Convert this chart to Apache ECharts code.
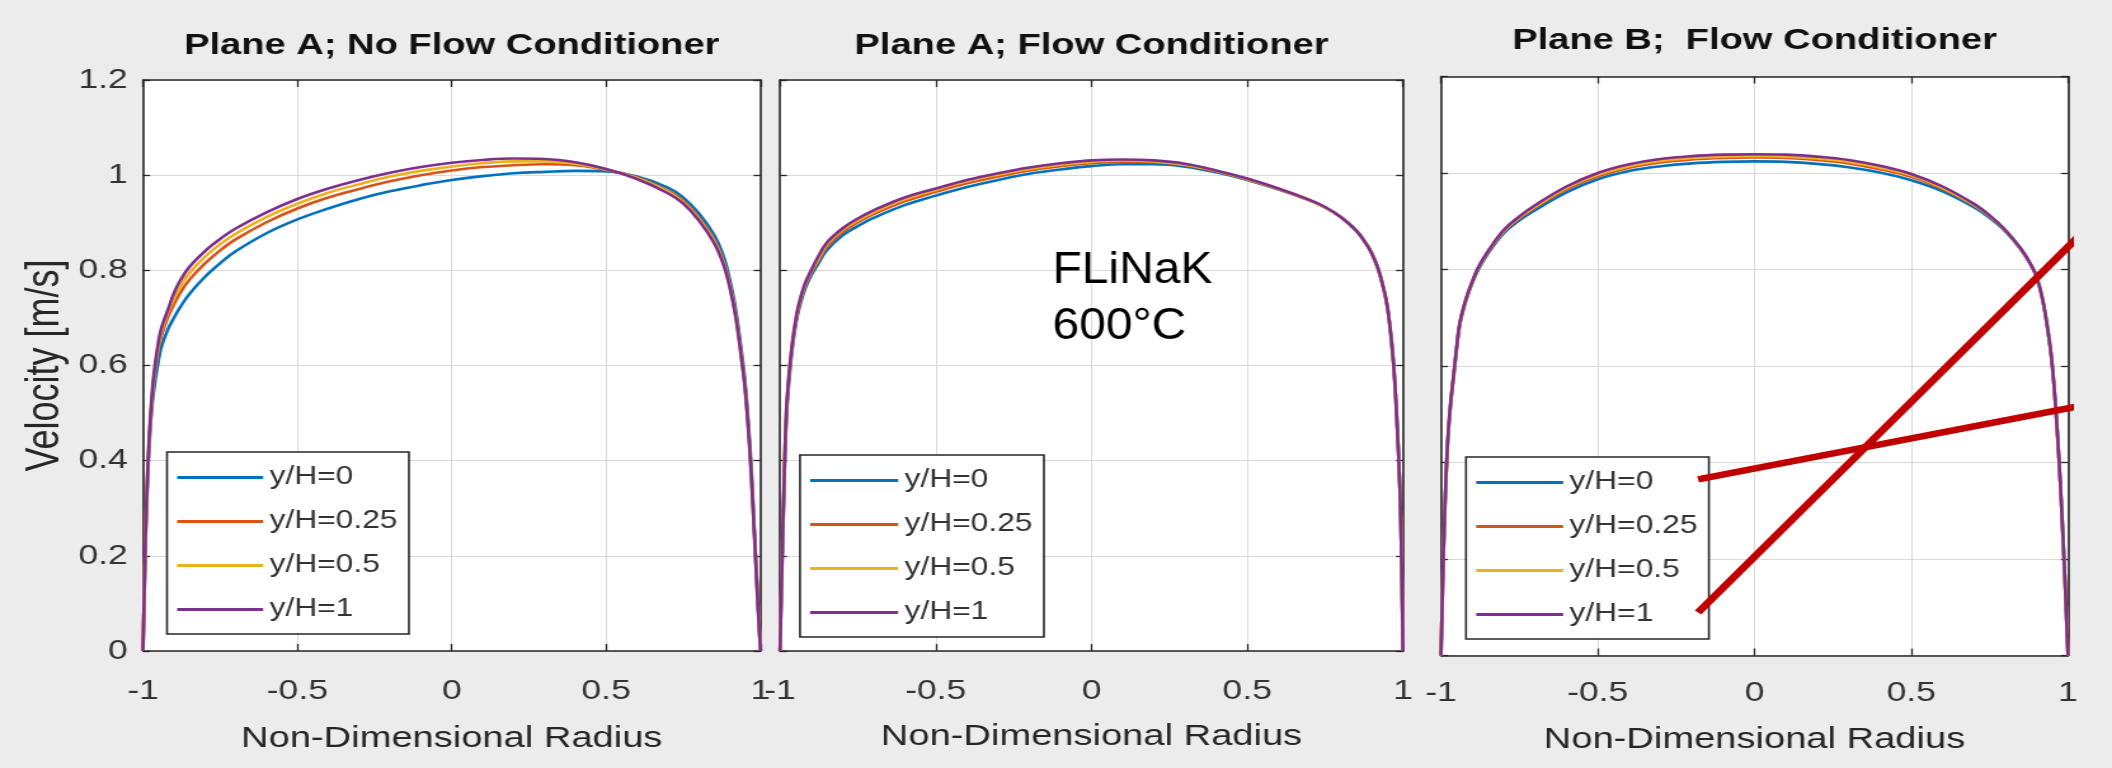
<!DOCTYPE html>
<html>
<head>
<meta charset="utf-8">
<script src="https://cdn.jsdelivr.net/npm/echarts@6/dist/echarts.min.js"></script>
<style>
html,body{margin:0;padding:0;background:#ececec;overflow:hidden;width:2112px;height:768px}
#chart{position:absolute;left:0;top:0;height:768px;transform-origin:0 0}
</style>
</head>
<body>
<div id="chart"></div>
<script>
// ---------------- data ----------------
const radius = [-1, -0.995, -0.99, -0.98, -0.97, -0.96, -0.95, -0.94, -0.92, -0.9, -0.88, -0.85, -0.8, -0.75, -0.7, -0.6, -0.5, -0.4, -0.3, -0.2, -0.1, 0, 0.1, 0.2, 0.3, 0.4, 0.5, 0.6, 0.7, 0.75, 0.8, 0.85, 0.88, 0.9, 0.92, 0.94, 0.95, 0.96, 0.97, 0.98, 0.99, 0.995, 1];

// Plane A; No Flow Conditioner
const planeA_noFC_y0   = [0, 0.14, 0.27, 0.43, 0.52, 0.57, 0.61, 0.64, 0.675, 0.70, 0.722, 0.75, 0.786, 0.815, 0.84, 0.878, 0.907, 0.93, 0.95, 0.966, 0.979, 0.99, 0.998, 1.004, 1.007, 1.009, 1.008, 0.997, 0.974, 0.953, 0.92, 0.874, 0.83, 0.782, 0.717, 0.622, 0.566, 0.487, 0.387, 0.257, 0.124, 0.063, 0];
const planeA_noFC_y025 = [0, 0.145, 0.28, 0.44, 0.535, 0.595, 0.635, 0.663, 0.70, 0.728, 0.752, 0.78, 0.814, 0.842, 0.865, 0.901, 0.93, 0.953, 0.971, 0.987, 1.0, 1.01, 1.017, 1.021, 1.023, 1.021, 1.011, 0.995, 0.967, 0.946, 0.911, 0.864, 0.819, 0.771, 0.706, 0.611, 0.556, 0.476, 0.376, 0.249, 0.119, 0.059, 0];
const planeA_noFC_y05  = [0, 0.148, 0.285, 0.445, 0.54, 0.60, 0.642, 0.672, 0.71, 0.74, 0.765, 0.794, 0.828, 0.855, 0.877, 0.912, 0.94, 0.963, 0.981, 0.997, 1.009, 1.018, 1.025, 1.029, 1.029, 1.024, 1.012, 0.994, 0.965, 0.943, 0.908, 0.861, 0.816, 0.768, 0.703, 0.608, 0.553, 0.473, 0.373, 0.247, 0.117, 0.057, 0];
const planeA_noFC_y1   = [0, 0.15, 0.29, 0.45, 0.548, 0.607, 0.65, 0.68, 0.716, 0.752, 0.778, 0.807, 0.84, 0.866, 0.888, 0.922, 0.95, 0.972, 0.99, 1.005, 1.017, 1.026, 1.032, 1.035, 1.034, 1.027, 1.013, 0.992, 0.962, 0.94, 0.905, 0.857, 0.812, 0.765, 0.70, 0.605, 0.55, 0.47, 0.37, 0.245, 0.115, 0.055, 0];

// Plane A; Flow Conditioner
const planeA_FC_y0   = [0, 0.14, 0.265, 0.48, 0.575, 0.638, 0.683, 0.716, 0.76, 0.789, 0.811, 0.842, 0.873, 0.893, 0.91, 0.937, 0.957, 0.975, 0.99, 1.003, 1.012, 1.019, 1.023, 1.023, 1.018, 1.006, 0.99, 0.97, 0.947, 0.932, 0.912, 0.884, 0.858, 0.836, 0.804, 0.756, 0.723, 0.671, 0.601, 0.491, 0.341, 0.2, 0];
const planeA_FC_y025 = [0, 0.145, 0.272, 0.49, 0.583, 0.644, 0.689, 0.722, 0.766, 0.795, 0.817, 0.849, 0.88, 0.901, 0.918, 0.945, 0.965, 0.983, 0.997, 1.01, 1.019, 1.025, 1.028, 1.027, 1.021, 1.008, 0.991, 0.971, 0.947, 0.932, 0.912, 0.883, 0.857, 0.835, 0.803, 0.755, 0.722, 0.67, 0.60, 0.49, 0.34, 0.2, 0];
const planeA_FC_y05  = [0, 0.148, 0.276, 0.495, 0.587, 0.647, 0.692, 0.725, 0.769, 0.798, 0.82, 0.854, 0.885, 0.905, 0.922, 0.949, 0.969, 0.987, 1.001, 1.013, 1.022, 1.028, 1.031, 1.029, 1.022, 1.009, 0.992, 0.971, 0.947, 0.932, 0.912, 0.883, 0.857, 0.835, 0.803, 0.755, 0.722, 0.67, 0.60, 0.49, 0.34, 0.2, 0];
const planeA_FC_y1   = [0, 0.15, 0.28, 0.50, 0.59, 0.65, 0.695, 0.728, 0.772, 0.80, 0.826, 0.858, 0.888, 0.909, 0.926, 0.953, 0.972, 0.99, 1.004, 1.016, 1.025, 1.031, 1.033, 1.031, 1.024, 1.01, 0.993, 0.972, 0.948, 0.933, 0.912, 0.883, 0.857, 0.835, 0.803, 0.755, 0.722, 0.67, 0.60, 0.49, 0.34, 0.2, 0];

// Plane B; Flow Conditioner
const planeB_FC_y0   = [0, 0.135, 0.255, 0.425, 0.515, 0.576, 0.636, 0.686, 0.736, 0.772, 0.801, 0.833, 0.875, 0.902, 0.923, 0.96, 0.987, 1.004, 1.014, 1.02, 1.023, 1.024, 1.023, 1.019, 1.012, 1.001, 0.985, 0.962, 0.929, 0.907, 0.879, 0.841, 0.811, 0.784, 0.734, 0.654, 0.599, 0.519, 0.419, 0.299, 0.159, 0.079, 0];
const planeB_FC_y025 = [0, 0.137, 0.257, 0.428, 0.518, 0.578, 0.638, 0.688, 0.738, 0.774, 0.804, 0.836, 0.879, 0.906, 0.928, 0.966, 0.993, 1.011, 1.022, 1.028, 1.031, 1.032, 1.031, 1.027, 1.02, 1.008, 0.992, 0.967, 0.933, 0.91, 0.881, 0.842, 0.812, 0.785, 0.735, 0.655, 0.60, 0.52, 0.42, 0.30, 0.16, 0.08, 0];
const planeB_FC_y05  = [0, 0.138, 0.258, 0.429, 0.519, 0.579, 0.639, 0.689, 0.739, 0.775, 0.805, 0.837, 0.88, 0.908, 0.93, 0.969, 0.996, 1.014, 1.025, 1.031, 1.034, 1.035, 1.034, 1.03, 1.023, 1.011, 0.995, 0.969, 0.934, 0.911, 0.881, 0.842, 0.812, 0.785, 0.735, 0.655, 0.60, 0.52, 0.42, 0.30, 0.16, 0.08, 0];
const planeB_FC_y1   = [0, 0.14, 0.26, 0.43, 0.52, 0.58, 0.64, 0.69, 0.74, 0.776, 0.806, 0.838, 0.882, 0.91, 0.933, 0.972, 1.0, 1.018, 1.029, 1.035, 1.038, 1.039, 1.038, 1.034, 1.027, 1.015, 0.998, 0.972, 0.936, 0.912, 0.882, 0.843, 0.812, 0.785, 0.735, 0.655, 0.60, 0.52, 0.42, 0.30, 0.16, 0.08, 0];

// annotation pointers (in Plane B data coordinates)
const pointerFromY0 = [[-0.18, 0.365], [1.14, 0.53]];
const pointerFromY1 = [[-0.18, 0.089], [1.14, 0.937]];

const seriesNames = ['y/H=0', 'y/H=0.25', 'y/H=0.5', 'y/H=1'];
const panelTitles = ['Plane A; No Flow Conditioner', 'Plane A; Flow Conditioner', 'Plane B;  Flow Conditioner'];
const xTicks = [-1, -0.5, 0, 0.5, 1];
const yTicks = [0, 0.2, 0.4, 0.6, 0.8, 1, 1.2];
const xAxisName = 'Non-Dimensional Radius';
const yAxisName = 'Velocity [m/s]';
const annotationText = 'FLiNaK\n600°C';

const panels = [
  [planeA_noFC_y0, planeA_noFC_y025, planeA_noFC_y05, planeA_noFC_y1],
  [planeA_FC_y0, planeA_FC_y025, planeA_FC_y05, planeA_FC_y1],
  [planeB_FC_y0, planeB_FC_y025, planeB_FC_y05, planeB_FC_y1]
];

// ---------------- layout / style ----------------
const S = 1.27;                // horizontal stretch of the source figure
const W = 2112 / S;
const el = document.getElementById('chart');
el.style.width = W + 'px';
el.style.transform = 'scaleX(' + S + ')';
const fx = v => v / S;

const colors = ['#0072BD', '#D95319', '#EDB120', '#7E2F8E'];
const FONT = 'Liberation Sans';
const boxes = [
  {l: 143, r: 760.5, t: 80, b: 651, titleTop: 31, legL: 167, legT: 452, icon: 86, lab: 26, nameGap: 73},
  {l: 780, r: 1403, t: 80, b: 651, titleTop: 31, legL: 800, legT: 455, icon: 88, lab: 26, nameGap: 71},
  {l: 1441, r: 2068, t: 76.5, b: 655.5, titleTop: 26, legL: 1466, legT: 457, icon: 87, lab: 24, nameGap: 69}
];

const grid = [], xAxis = [], yAxis = [], series = [], legend = [], title = [];
boxes.forEach((B, p) => {
  grid.push({left: fx(B.l), top: B.t, width: fx(B.r - B.l), height: B.b - B.t,
    show: true, backgroundColor: '#ffffff', borderWidth: 0, containLabel: false, outerBoundsMode: 'none'});
  const axisLine = {show: true, onZero: false, lineStyle: {color: '#262626', width: 1.6}};
  xAxis.push({
    type: 'value', gridIndex: p, position: 'bottom',
    min: xTicks[0], max: xTicks[xTicks.length - 1], interval: xTicks[1] - xTicks[0],
    axisLine, axisTick: {show: true, inside: true, length: 7, lineStyle: {color: '#262626', width: 1.3}},
    axisLabel: {show: true, margin: B.lab, fontSize: 28, fontFamily: FONT, color: '#333333'},
    splitLine: {show: true, lineStyle: {color: '#dadada', width: 1}},
    name: xAxisName, nameLocation: 'middle', nameGap: B.nameGap, nameMoveOverlap: false,
    nameTextStyle: {fontSize: 30, fontFamily: FONT, color: '#262626'}
  });
  xAxis.push({
    type: 'value', gridIndex: p, position: 'top',
    min: xTicks[0], max: xTicks[xTicks.length - 1], interval: xTicks[1] - xTicks[0],
    axisLine, axisTick: {show: true, inside: true, length: 7, lineStyle: {color: '#262626', width: 1.3}},
    axisLabel: {show: false}, splitLine: {show: false}
  });
  yAxis.push({
    type: 'value', gridIndex: p, position: 'left',
    min: yTicks[0], max: yTicks[yTicks.length - 1], interval: yTicks[1] - yTicks[0],
    axisLine, axisTick: {show: true, inside: true, length: 5.5, lineStyle: {color: '#262626', width: 1.3}},
    axisLabel: {show: p === 0, margin: 12, fontSize: 28, fontFamily: FONT, color: '#333333'},
    splitLine: {show: true, lineStyle: {color: '#dadada', width: 1}},
    name: p === 0 ? yAxisName : '', nameLocation: 'middle', nameGap: 59, nameMoveOverlap: false,
    nameTextStyle: {fontSize: 36, fontFamily: FONT, color: '#262626'}
  });
  yAxis.push({
    type: 'value', gridIndex: p, position: 'right',
    min: yTicks[0], max: yTicks[yTicks.length - 1], interval: yTicks[1] - yTicks[0],
    axisLine, axisTick: {show: true, inside: true, length: 5.5, lineStyle: {color: '#262626', width: 1.3}},
    axisLabel: {show: false}, splitLine: {show: false}
  });
  panels[p].forEach((vals, k) => {
    series.push({
      type: 'line', name: seriesNames[k], xAxisIndex: 2 * p, yAxisIndex: 2 * p,
      data: radius.map((r, i) => [r, vals[i]]),
      symbol: 'none', showSymbol: false, smooth: 0.4,
      lineStyle: {color: colors[k], width: 2.6}, itemStyle: {color: colors[k]},
      z: 3 + k, silent: true
    });
  });
  legend.push({
    data: seriesNames, orient: 'vertical', left: fx(B.legL), top: B.legT,
    icon: 'rect', itemWidth: fx(B.icon), itemHeight: 3, itemGap: 19,
    padding: [13, 9, 12, 8], backgroundColor: '#ffffff', borderColor: '#262626', borderWidth: 1.6, borderRadius: 0,
    selectedMode: false,
    textStyle: {fontSize: 25, fontFamily: FONT, color: '#333333', lineHeight: 25}
  });
  title.push({
    text: panelTitles[p], left: fx((B.l + B.r) / 2), top: B.titleTop, textAlign: 'center', padding: 0,
    textStyle: {fontSize: 30, fontWeight: 'bold', fontFamily: FONT, color: '#111111'}
  });
});

[pointerFromY0, pointerFromY1].forEach((pts, i) => {
  series.push({
    type: 'line', name: 'pointer' + i, xAxisIndex: 4, yAxisIndex: 4, data: pts,
    symbol: 'none', clip: false, lineStyle: {color: '#c00000', width: 6.5}, z: 20, silent: true
  });
});

const chart = echarts.init(el, null, {renderer: 'canvas'});
chart.setOption({
  animation: false,
  backgroundColor: '#ececec',
  title, grid, xAxis, yAxis, series, legend,
  graphic: [{
    type: 'text', x: fx(1052.5), y: 243, scaleX: 1.065 / S, z: 100,
    style: {text: annotationText, fontSize: 45, fontFamily: FONT, lineHeight: 56, fill: '#000000', align: 'left', verticalAlign: 'top'}
  }]
});
</script>
</body>
</html>
